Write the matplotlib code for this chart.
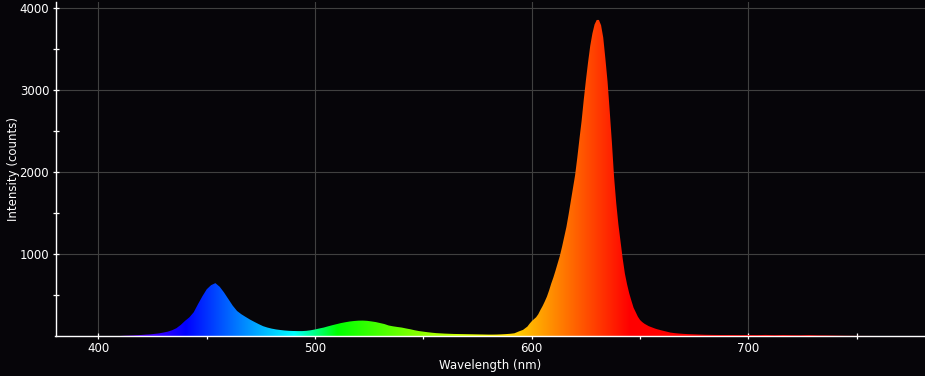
"""LED emission spectrum, wavelength-coloured fill on a dark background."""
import matplotlib
matplotlib.use("Agg")
import matplotlib.pyplot as plt
from matplotlib.patches import Polygon
import numpy as np

# ---- data (nm, counts) ----
wl_blue_green = [410, 412, 414, 416, 418, 420, 422, 424, 426, 428, 430, 432, 434, 436, 438,
                 440, 442, 444, 446, 448, 450, 452, 454, 456, 458, 460, 462, 464, 466, 468,
                 470, 472, 474, 476, 478, 480, 482, 484, 486, 488, 490, 492, 494, 496, 498,
                 500, 502, 504, 506, 508, 510, 512, 514, 516, 518, 520, 522, 524, 526, 528,
                 530, 532, 534, 536, 538, 540, 542, 544, 546, 548, 550, 552, 554, 556, 558,
                 560, 562, 564, 566, 568, 570, 572, 574, 576, 578, 580, 582, 584, 586, 588,
                 590, 592, 594, 596, 598]
int_blue_green = [0, 3, 5, 7, 10, 13, 17, 20, 26, 32, 42, 53, 70, 95, 135,
                  185, 228, 290, 390, 485, 570, 620, 645, 600, 530, 450, 370, 305, 265, 232,
                  200, 172, 145, 120, 103, 90, 80, 73, 67, 63, 61, 60, 60, 63, 70,
                  80, 92, 103, 118, 132, 145, 158, 168, 177, 183, 187, 188, 185, 178, 170,
                  158, 146, 128, 118, 110, 103, 92, 82, 70, 60, 53, 46, 40, 35, 32,
                  29, 27, 25, 24, 23, 22, 21, 20, 19, 18, 17, 17, 18, 20, 23,
                  27, 33, 55, 75, 115]

wl_red = [599, 600, 601, 602, 603, 604, 605, 606, 607, 608, 609, 610, 611, 612, 613,
          614, 615, 616, 617, 618, 619, 620, 621, 622, 623, 624, 625, 626, 627, 628,
          629, 630, 631, 632, 633, 634, 635, 636, 637, 638, 639, 640, 641, 642, 643,
          644, 645, 646, 647, 648, 649, 650, 651, 652, 653, 654, 655, 656, 657, 658,
          659, 660]
int_red = [150, 180, 205, 228, 265, 317, 365, 420, 480, 555, 640, 715, 800, 890, 980,
           1090, 1210, 1330, 1480, 1640, 1800, 1960, 2170, 2400, 2620, 2880, 3120, 3340, 3540, 3690,
           3800, 3855, 3855, 3790, 3640, 3380, 3100, 2740, 2360, 1940, 1620, 1360, 1150, 940, 760,
           630, 520, 430, 345, 290, 235, 195, 170, 150, 135, 120, 110, 100, 90, 82,
           75, 68]

wl_tail = [662, 664, 666, 668, 670, 672, 674, 676, 678, 680, 684, 688, 692, 696, 700,
           704, 708, 712, 716, 720, 724, 728, 732, 736, 740, 744, 750, 760, 770, 780]
int_tail = [55, 42, 35, 30, 26, 23, 21, 19, 17, 15, 13, 12, 12, 11, 12,
            11, 13, 10, 12, 10, 9, 11, 8, 7, 5, 3, 1, 0, 0, 0]

wavelength = np.array(wl_blue_green + wl_red + wl_tail, dtype=float)
intensity = np.array(int_blue_green + int_red + int_tail, dtype=float)

x_ticks = [400, 500, 600, 700]
y_ticks = [1000, 2000, 3000, 4000]

BG = '#060509'
GRID = '#404040'


def wavelength_rgb(w):
    """Approximate visible colour of a wavelength (Bruton style)."""
    w = np.asarray(w, dtype=float)
    r = np.zeros_like(w); g = np.zeros_like(w); b = np.zeros_like(w)
    m = w < 440
    r[m] = (440 - w[m]) / 60; b[m] = 1
    m = (w >= 440) & (w < 490)
    g[m] = (w[m] - 440) / 50; b[m] = 1
    m = (w >= 490) & (w < 510)
    g[m] = 1; b[m] = (510 - w[m]) / 20
    m = (w >= 510) & (w < 580)
    r[m] = (w[m] - 510) / 70; g[m] = 1
    m = (w >= 580) & (w < 645)
    r[m] = 1; g[m] = (645 - w[m]) / 65
    m = w >= 645
    r[m] = 1
    return np.clip(np.stack([r, g, b], axis=-1), 0, 1)


fig = plt.figure(figsize=(9.25, 3.76), dpi=100, facecolor=BG)
ax = fig.add_axes([55.5 / 925, 40 / 376, 1 - 55.5 / 925, 334.5 / 376])
ax.set_facecolor(BG)

xmin, xmax = 380.2, 781.5
ymin, ymax = 0, 4080
ax.set_xlim(xmin, xmax)
ax.set_ylim(ymin, ymax)

# colour strip clipped to the spectrum outline
xs = np.linspace(xmin, xmax, 1200)
strip = wavelength_rgb(xs)[np.newaxis, :, :]
im = ax.imshow(strip, extent=[xmin, xmax, ymin, ymax], aspect='auto',
               origin='lower', interpolation='bilinear', zorder=2)
outline = np.column_stack([np.r_[wavelength[0], wavelength, wavelength[-1]],
                           np.r_[0, intensity, 0]])
poly = Polygon(outline, closed=True, facecolor='none', edgecolor='none',
               transform=ax.transData)
ax.add_patch(poly)
im.set_clip_path(poly)

# grid and axes styling
ax.set_xticks(x_ticks)
ax.set_yticks(y_ticks)
ax.set_xticks([450, 550, 650, 750], minor=True)
ax.set_yticks([500, 1500, 2500, 3500], minor=True)
ax.grid(True, which='major', color=GRID, linewidth=0.8, zorder=1)
ax.set_axisbelow(True)

for side in ['top', 'right']:
    ax.spines[side].set_visible(False)
for side in ['left', 'bottom']:
    ax.spines[side].set_color('white')
    ax.spines[side].set_linewidth(1.0)
    ax.spines[side].set_zorder(5)

ax.tick_params(which='both', direction='inout', colors='white', labelsize=8.5, width=0.9)
ax.tick_params(which='major', length=5, pad=2)
ax.tick_params(which='minor', length=5)

ax.set_xlabel('Wavelength (nm)', color='white', fontsize=8.5, labelpad=3)
ax.set_ylabel('Intensity (counts)', color='white', fontsize=8.5, labelpad=0)

fig.savefig('out.png', dpi=100, facecolor=BG)
plt.close()
